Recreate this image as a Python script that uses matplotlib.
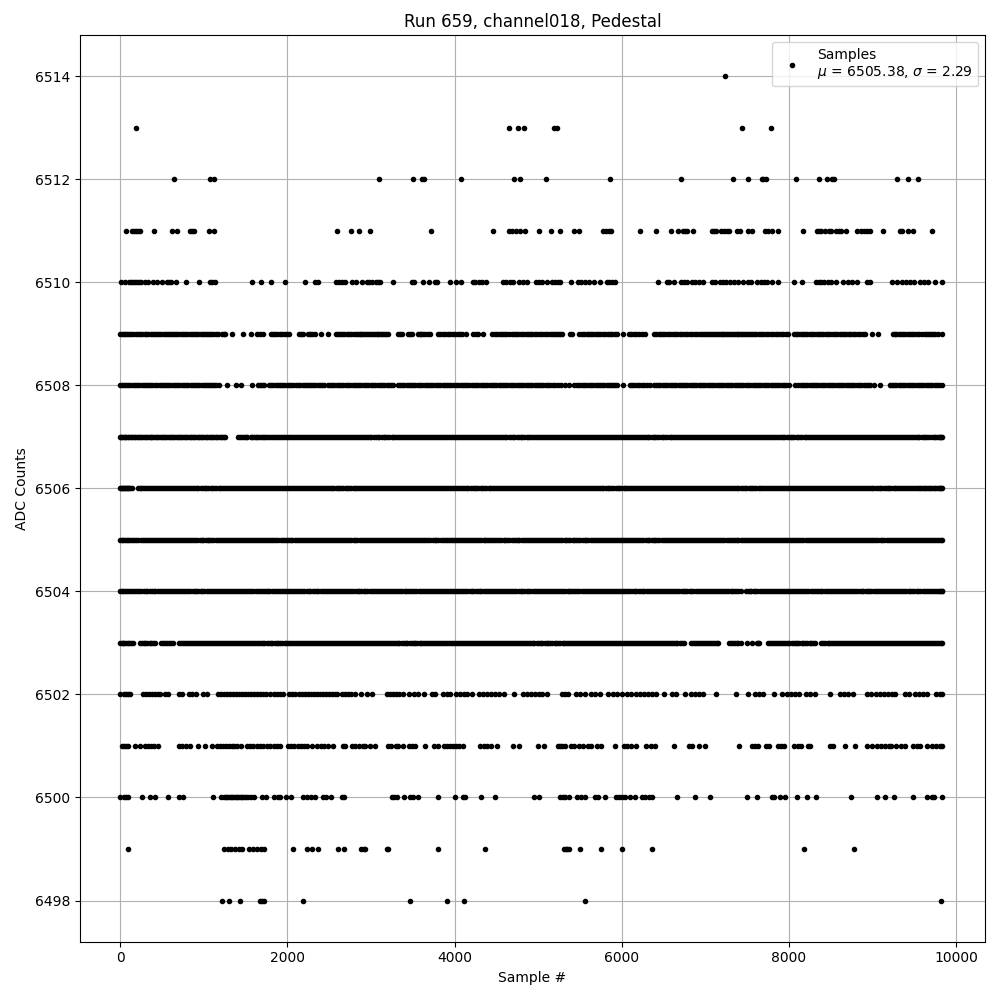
import matplotlib
matplotlib.use("Agg")
import matplotlib.pyplot as plt

# sample numbers, one list per ADC level
adc_6514 = [7236]
adc_6513 = [188, 4652, 4760, 4832, 5192, 5224, 7440, 7788]
adc_6512 = [644, 1076, 1124, 3092, 3500, 3612, 3636, 4076, 4712, 4784, 5088, 5856, 6708, 7332, 7512,
            7672, 7692, 7724, 8088, 8364, 8448, 8512, 8536, 9288, 9420, 9540]
adc_6511 = [68, 140, 164, 188, 212, 236, 404, 620, 680, 832, 856, 880, 1060, 1124, 2588, 2756, 2852, 2984,
            3716, 4460, 4652, 4688, 4736, 4784, 4844, 5012, 5148, 5256, 5424, 5484, 5780, 5812, 5844, 5868,
            6216, 6408, 6588, 6672, 6732, 6756, 6780, 6852, 7076, 7104, 7128, 7188, 7224, 7260, 7284, 7380,
            7416, 7512, 7552, 7712, 7752, 7800, 7872, 8172, 8340, 8364, 8388, 8436, 8472, 8496, 8556, 8592,
            8616, 8676, 8808, 8856, 8892, 8928, 8964, 9120, 9324, 9348, 9420, 9480, 9708]
adc_6510 = [12, 52, 108, 132, 156, 180, 204, 228, 244, 300, 332, 392, 444, 500, 556, 580, 612, 672, 788, 944,
            1076, 1100, 1132, 1580, 1688, 1808, 1976, 2204, 2324, 2364, 2580, 2612, 2652, 2692, 2768, 2820,
            2888, 2948, 2980, 3012, 3060, 3084, 3108, 3260, 3484, 3508, 3620, 3688, 3760, 3784, 3944, 4012,
            4076, 4220, 4244, 4292, 4332, 4380, 4580, 4620, 4660, 4700, 4772, 4812, 4860, 4968, 5004, 5040,
            5100, 5160, 5196, 5232, 5256, 5388, 5472, 5508, 5556, 5604, 5664, 5736, 5820, 5844, 5880, 5920,
            6432, 6540, 6564, 6624, 6708, 6744, 6780, 6840, 6876, 6924, 6972, 7080, 7116, 7176, 7212, 7248,
            7296, 7344, 7392, 7452, 7512, 7548, 7620, 7668, 7704, 7740, 7800, 7872, 8064, 8160, 8328, 8364,
            8388, 8424, 8460, 8496, 8556, 8640, 8700, 8748, 8808, 8928, 8964, 9228, 9288, 9348, 9396, 9444,
            9492, 9564, 9612, 9660, 9744, 9835]
adc_6509 = [0, 20, 40, 62, 85, 108, 130, 158, 185, 208, 230, 260, 290, 312, 335, 362, 390, 418, 445, 468, 490,
            520, 550, 575, 600, 620, 640, 668, 695, 722, 750, 775, 800, 830, 860, 882, 905, 932, 960, 985,
            1010, 1035, 1060, 1088, 1115, 1142, 1170, 1212, 1235, 1255, 1340, 1472, 1568, 1640, 1675, 1712,
            1808, 1830, 1850, 1880, 1910, 1938, 1965, 1995, 2024, 2140, 2165, 2190, 2240, 2265, 2290, 2332,
            2400, 2480, 2580, 2605, 2630, 2655, 2680, 2708, 2735, 2762, 2790, 2815, 2840, 2862, 2885, 2908,
            2930, 2952, 2975, 2998, 3020, 3042, 3065, 3088, 3110, 3132, 3155, 3178, 3200, 3320, 3345, 3370,
            3440, 3465, 3492, 3560, 3580, 3600, 3625, 3650, 3680, 3708, 3800, 3828, 3855, 3885, 3915, 3945,
            3975, 4008, 4040, 4065, 4090, 4140, 4220, 4250, 4280, 4340, 4452, 4480, 4510, 4538, 4565, 4592,
            4620, 4650, 4680, 4708, 4735, 4762, 4790, 4820, 4850, 4875, 4900, 4930, 4960, 4990, 5020, 5050,
            5080, 5108, 5135, 5162, 5190, 5215, 5240, 5262, 5284, 5375, 5400, 5492, 5520, 5550, 5578, 5605,
            5632, 5660, 5688, 5715, 5742, 5770, 5800, 5830, 5858, 5885, 5912, 5940, 6012, 6084, 6112, 6140,
            6172, 6205, 6238, 6272, 6384, 6412, 6440, 6468, 6495, 6522, 6550, 6580, 6610, 6638, 6665, 6692,
            6720, 6750, 6780, 6810, 6840, 6870, 6900, 6930, 6960, 6985, 7012, 7032, 7056, 7080, 7102, 7125,
            7148, 7170, 7192, 7215, 7238, 7260, 7282, 7305, 7328, 7350, 7372, 7395, 7418, 7440, 7462, 7485,
            7508, 7530, 7555, 7580, 7608, 7635, 7662, 7690, 7720, 7750, 7780, 7810, 7840, 7870, 7900, 7930,
            7960, 7992, 8060, 8085, 8110, 8138, 8165, 8192, 8220, 8248, 8275, 8302, 8330, 8358, 8385, 8412,
            8440, 8468, 8495, 8522, 8550, 8578, 8605, 8632, 8660, 8685, 8712, 8732, 8760, 8790, 8820, 8850,
            8880, 8912, 8988, 9060, 9240, 9262, 9285, 9310, 9335, 9362, 9390, 9418, 9445, 9472, 9500, 9530,
            9560, 9595, 9632, 9652, 9675, 9700, 9725, 9750, 9780, 9828]
adc_6508 = [0, 22, 45, 70, 95, 122, 150, 175, 200, 228, 255, 280, 305, 332, 360, 385, 410, 440, 470, 495, 520,
            548, 575, 600, 625, 652, 680, 708, 735, 760, 785, 812, 840, 865, 890, 918, 945, 972, 1000, 1025,
            1050, 1075, 1100, 1125, 1150, 1180, 1280, 1388, 1448, 1580, 1648, 1670, 1690, 1720, 1780, 1805,
            1830, 1858, 1885, 1910, 1935, 1962, 1990, 2018, 2045, 2072, 2100, 2128, 2155, 2182, 2210, 2235,
            2260, 2280, 2305, 2330, 2360, 2390, 2415, 2440, 2480, 2508, 2535, 2560, 2588, 2615, 2642, 2670,
            2698, 2725, 2752, 2780, 2805, 2830, 2858, 2885, 2912, 2940, 2968, 2995, 3022, 3050, 3078, 3105,
            3132, 3160, 3188, 3215, 3242, 3268, 3320, 3345, 3370, 3398, 3425, 3452, 3480, 3505, 3530, 3558,
            3585, 3612, 3640, 3668, 3695, 3720, 3745, 3772, 3800, 3828, 3855, 3882, 3910, 3935, 3960, 3988,
            4015, 4042, 4070, 4098, 4125, 4150, 4175, 4202, 4230, 4258, 4285, 4312, 4340, 4365, 4390, 4418,
            4445, 4472, 4500, 4528, 4555, 4580, 4605, 4632, 4660, 4688, 4715, 4742, 4770, 4795, 4820, 4848,
            4875, 4902, 4930, 4958, 4985, 5010, 5035, 5062, 5090, 5118, 5145, 5172, 5200, 5235, 5272, 5324,
            5372, 5432, 5458, 5484, 5524, 5550, 5575, 5602, 5630, 5658, 5685, 5712, 5740, 5765, 5790, 5818,
            5845, 5872, 5900, 5920, 5940, 6012, 6092, 6120, 6150, 6180, 6210, 6240, 6270, 6300, 6332, 6380,
            6408, 6435, 6462, 6490, 6518, 6545, 6570, 6595, 6622, 6650, 6678, 6705, 6732, 6760, 6785, 6810,
            6838, 6865, 6892, 6920, 6948, 6975, 7000, 7025, 7052, 7080, 7108, 7135, 7162, 7190, 7215, 7240,
            7268, 7295, 7322, 7350, 7378, 7405, 7430, 7455, 7482, 7510, 7538, 7565, 7592, 7620, 7645, 7670,
            7698, 7725, 7752, 7780, 7808, 7835, 7860, 7885, 7912, 7940, 7968, 7995, 8072, 8112, 8138, 8165,
            8192, 8220, 8248, 8275, 8300, 8325, 8352, 8380, 8408, 8435, 8462, 8490, 8515, 8540, 8568, 8595,
            8622, 8650, 8678, 8705, 8730, 8755, 8782, 8810, 8838, 8865, 8892, 8920, 8945, 8970, 9012, 9084,
            9204, 9230, 9255, 9282, 9310, 9338, 9365, 9392, 9420, 9445, 9470, 9498, 9525, 9552, 9580, 9608,
            9635, 9660, 9685, 9712, 9740, 9768, 9795, 9835]
adc_6507 = [0, 12, 25, 40, 55, 72, 90, 108, 125, 142, 160, 178, 195, 215, 235, 252, 270, 290, 310, 330, 350,
            368, 385, 405, 425, 445, 465, 482, 500, 520, 540, 560, 580, 598, 615, 635, 655, 675, 695, 712,
            730, 750, 770, 790, 810, 830, 850, 868, 885, 905, 925, 945, 965, 982, 1000, 1020, 1040, 1060,
            1080, 1100, 1120, 1140, 1160, 1180, 1200, 1220, 1240, 1256, 1404, 1430, 1452, 1475,
            1498, 1520, 1560, 1580, 1600, 1620, 1640, 1660, 1680, 1702, 1725, 1748, 1770, 1795, 1820, 1842,
            1865, 1890, 1915, 1938, 1960, 1985, 2010, 2032, 2055, 2080, 2105, 2128, 2150, 2175, 2200, 2222,
            2245, 2270, 2295, 2318, 2340, 2365, 2390, 2412, 2435, 2460, 2485, 2508, 2530, 2555, 2580, 2602,
            2625, 2650, 2675, 2698, 2720, 2745, 2770, 2792, 2815, 2840, 2865, 2888, 2910, 2935, 2960, 2982,
            3005, 3030, 3055, 3078, 3100, 3125, 3150, 3172, 3195, 3220, 3245, 3268, 3290, 3315, 3340, 3362,
            3385, 3410, 3435, 3458, 3480, 3505, 3530, 3552, 3575, 3600, 3625, 3648, 3670, 3695, 3720, 3742,
            3765, 3790, 3815, 3838, 3860, 3885, 3910, 3932, 3955, 3980, 4005, 4028, 4050, 4075, 4100, 4122,
            4145, 4170, 4195, 4218, 4240, 4265, 4290, 4312, 4335, 4360, 4385, 4408, 4430, 4455, 4480, 4502,
            4525, 4550, 4575, 4598, 4620, 4645, 4670, 4692, 4715, 4740, 4765, 4788, 4810, 4835, 4860, 4882,
            4905, 4930, 4955, 4978, 5000, 5025, 5050, 5072, 5095, 5120, 5145, 5168, 5190, 5215, 5240, 5262,
            5285, 5310, 5335, 5358, 5380, 5405, 5430, 5452, 5475, 5500, 5525, 5548, 5570, 5595, 5620, 5642,
            5665, 5690, 5715, 5738, 5760, 5785, 5810, 5832, 5855, 5880, 5905, 5928, 5950, 5975, 6000, 6022,
            6045, 6070, 6095, 6118, 6140, 6165, 6190, 6212, 6235, 6260, 6285, 6308, 6330, 6355, 6380, 6402,
            6425, 6450, 6475, 6498, 6520, 6545, 6570, 6592, 6615, 6640, 6665, 6688, 6710, 6735, 6760, 6782,
            6805, 6830, 6855, 6878, 6900, 6925, 6950, 6972, 6995, 7020, 7045, 7068, 7090, 7115, 7140, 7162,
            7185, 7210, 7235, 7258, 7280, 7305, 7330, 7352, 7375, 7400, 7425, 7448, 7470, 7495, 7520, 7542,
            7565, 7590, 7615, 7638, 7660, 7685, 7710, 7732, 7755, 7780, 7805, 7828, 7850, 7875, 7900, 7922,
            7945, 7970, 7995, 8018, 8040, 8065, 8090, 8112, 8135, 8160, 8185, 8208, 8230, 8255, 8280, 8302,
            8325, 8350, 8375, 8398, 8420, 8445, 8470, 8492, 8515, 8540, 8565, 8588, 8610, 8635, 8660, 8682,
            8705, 8730, 8755, 8778, 8800, 8825, 8850, 8872, 8895, 8920, 8945, 8968, 8990, 9015, 9040, 9062,
            9085, 9110, 9135, 9158, 9180, 9205, 9230, 9252, 9275, 9300, 9325, 9348, 9370, 9395, 9420, 9442,
            9465, 9490, 9515, 9538, 9560, 9585, 9610, 9632, 9655, 9680, 9705, 9728, 9750, 9770, 9790, 9805,
            9820, 9835]
adc_6506 = [0, 10, 20, 32, 45, 58, 70, 82, 95, 108, 120, 136, 212, 230, 252, 275, 298, 320, 345,
            370, 392, 415, 438, 460, 485, 510, 532, 555, 580, 605, 628, 650, 675, 700, 722, 745, 770, 795,
            818, 840, 865, 890, 912, 935, 960, 985, 1008, 1030, 1055, 1080, 1102, 1125, 1150, 1175, 1198,
            1220, 1245, 1270, 1292, 1315, 1340, 1365, 1388, 1410, 1435, 1460, 1482, 1505, 1530, 1555, 1578,
            1600, 1625, 1650, 1672, 1695, 1720, 1745, 1768, 1790, 1815, 1840, 1862, 1885, 1910, 1935, 1958,
            1980, 2005, 2030, 2052, 2075, 2100, 2125, 2148, 2170, 2195, 2220, 2242, 2265, 2290, 2315, 2338,
            2360, 2385, 2410, 2432, 2455, 2480, 2505, 2528, 2550, 2575, 2600, 2622, 2645, 2670, 2695, 2718,
            2740, 2765, 2790, 2812, 2835, 2860, 2885, 2908, 2930, 2955, 2980, 3002, 3025, 3050, 3075, 3098,
            3120, 3145, 3170, 3192, 3215, 3240, 3265, 3288, 3310, 3335, 3360, 3382, 3405, 3430, 3455, 3478,
            3500, 3525, 3550, 3572, 3595, 3620, 3645, 3668, 3690, 3715, 3740, 3762, 3785, 3810, 3835, 3858,
            3880, 3905, 3930, 3952, 3975, 4000, 4025, 4048, 4070, 4095, 4120, 4142, 4165, 4190, 4215, 4238,
            4260, 4285, 4310, 4332, 4355, 4380, 4405, 4428, 4450, 4475, 4500, 4522, 4545, 4570, 4595, 4618,
            4640, 4665, 4690, 4712, 4735, 4760, 4785, 4808, 4830, 4855, 4880, 4902, 4925, 4950, 4975, 4998,
            5020, 5045, 5070, 5092, 5115, 5140, 5165, 5188, 5210, 5235, 5260, 5282, 5305, 5330, 5355, 5378,
            5400, 5425, 5450, 5472, 5495, 5520, 5545, 5568, 5590, 5615, 5640, 5662, 5685, 5710, 5735, 5758,
            5780, 5805, 5830, 5852, 5875, 5900, 5925, 5948, 5970, 5995, 6020, 6042, 6065, 6090, 6115, 6138,
            6160, 6185, 6210, 6232, 6255, 6280, 6305, 6328, 6350, 6375, 6400, 6422, 6445, 6470, 6495, 6518,
            6540, 6565, 6590, 6612, 6635, 6660, 6685, 6708, 6730, 6755, 6780, 6802, 6825, 6850, 6875, 6898,
            6920, 6945, 6970, 6992, 7015, 7040, 7065, 7088, 7110, 7135, 7160, 7182, 7205, 7230, 7255, 7278,
            7300, 7325, 7350, 7372, 7395, 7420, 7445, 7468, 7490, 7515, 7540, 7562, 7585, 7610, 7635, 7658,
            7680, 7705, 7730, 7752, 7775, 7800, 7825, 7848, 7870, 7895, 7920, 7942, 7965, 7990, 8015, 8038,
            8060, 8085, 8110, 8132, 8155, 8180, 8205, 8228, 8250, 8275, 8300, 8322, 8345, 8370, 8395, 8418,
            8440, 8465, 8490, 8512, 8535, 8560, 8585, 8608, 8630, 8655, 8680, 8702, 8725, 8750, 8775, 8798,
            8820, 8845, 8870, 8892, 8915, 8940, 8965, 8988, 9010, 9035, 9060, 9082, 9105, 9130, 9155, 9178,
            9200, 9225, 9250, 9272, 9295, 9320, 9345, 9368, 9390, 9415, 9440, 9462, 9485, 9508, 9530, 9550,
            9570, 9590, 9610, 9630, 9650, 9670, 9690, 9710, 9730, 9750, 9770, 9790, 9810, 9822, 9835]
adc_6505 = [0, 15, 30, 52, 75, 97, 120, 145, 170, 192, 215, 242, 270, 292, 315, 340, 365, 388, 410, 437, 465,
            487, 510, 535, 560, 582, 605, 630, 655, 680, 705, 727, 750, 775, 800, 825, 850, 872, 895, 922,
            950, 972, 995, 1020, 1045, 1067, 1090, 1115, 1140, 1165, 1190, 1212, 1235, 1260, 1285, 1310,
            1335, 1357, 1380, 1407, 1435, 1457, 1480, 1505, 1530, 1552, 1575, 1600, 1625, 1650, 1675, 1697,
            1720, 1745, 1770, 1795, 1820, 1842, 1865, 1892, 1920, 1942, 1965, 1990, 2015, 2037, 2060, 2085,
            2110, 2135, 2160, 2182, 2205, 2230, 2255, 2280, 2305, 2327, 2350, 2377, 2405, 2427, 2450, 2475,
            2500, 2522, 2545, 2570, 2595, 2620, 2645, 2667, 2690, 2715, 2740, 2765, 2790, 2812, 2835, 2862,
            2890, 2912, 2935, 2960, 2985, 3007, 3030, 3055, 3080, 3105, 3130, 3152, 3175, 3200, 3225, 3250,
            3275, 3297, 3320, 3347, 3375, 3397, 3420, 3445, 3470, 3492, 3515, 3540, 3565, 3590, 3615, 3637,
            3660, 3685, 3710, 3735, 3760, 3782, 3805, 3832, 3860, 3882, 3905, 3930, 3955, 3977, 4000, 4025,
            4050, 4075, 4100, 4122, 4145, 4170, 4195, 4220, 4245, 4267, 4290, 4317, 4345, 4367, 4390, 4415,
            4440, 4462, 4485, 4510, 4535, 4560, 4585, 4607, 4630, 4655, 4680, 4705, 4730, 4752, 4775, 4802,
            4830, 4852, 4875, 4900, 4925, 4947, 4970, 4995, 5020, 5045, 5070, 5092, 5115, 5140, 5165, 5190,
            5215, 5237, 5260, 5287, 5315, 5337, 5360, 5385, 5410, 5432, 5455, 5480, 5505, 5530, 5555, 5577,
            5600, 5625, 5650, 5675, 5700, 5722, 5745, 5772, 5800, 5822, 5845, 5870, 5895, 5917, 5940, 5965,
            5990, 6015, 6040, 6062, 6085, 6110, 6135, 6160, 6185, 6207, 6230, 6257, 6285, 6307, 6330, 6355,
            6380, 6402, 6425, 6450, 6475, 6500, 6525, 6547, 6570, 6595, 6620, 6645, 6670, 6692, 6715, 6742,
            6770, 6792, 6815, 6840, 6865, 6887, 6910, 6935, 6960, 6985, 7010, 7032, 7055, 7080, 7105, 7130,
            7155, 7177, 7200, 7227, 7255, 7277, 7300, 7325, 7350, 7372, 7395, 7420, 7445, 7470, 7495, 7517,
            7540, 7565, 7590, 7615, 7640, 7662, 7685, 7712, 7740, 7762, 7785, 7810, 7835, 7857, 7880, 7905,
            7930, 7955, 7980, 8002, 8025, 8050, 8075, 8100, 8125, 8147, 8170, 8197, 8225, 8247, 8270, 8295,
            8320, 8342, 8365, 8390, 8415, 8440, 8465, 8487, 8510, 8535, 8560, 8585, 8610, 8632, 8655, 8682,
            8710, 8732, 8755, 8780, 8805, 8827, 8850, 8875, 8900, 8925, 8950, 8972, 8995, 9020, 9045, 9070,
            9095, 9117, 9140, 9167, 9195, 9217, 9240, 9265, 9290, 9312, 9335, 9360, 9385, 9410, 9435, 9457,
            9480, 9505, 9530, 9555, 9580, 9602, 9625, 9652, 9680, 9702, 9725, 9750, 9775, 9795, 9815, 9835]
adc_6504 = [0, 18, 35, 58, 80, 105, 130, 152, 175, 200, 225, 252, 280, 302, 325, 350, 375, 398, 420, 448, 475,
            498, 520, 545, 570, 592, 615, 642, 670, 692, 715, 740, 765, 788, 810, 838, 865, 888, 910, 935,
            960, 982, 1005, 1032, 1060, 1082, 1105, 1130, 1155, 1178, 1200, 1228, 1255, 1278, 1300, 1325,
            1350, 1372, 1395, 1422, 1450, 1472, 1495, 1520, 1545, 1568, 1590, 1618, 1645, 1668, 1690, 1715,
            1740, 1762, 1785, 1812, 1840, 1862, 1885, 1910, 1935, 1958, 1980, 2008, 2035, 2058, 2080, 2105,
            2130, 2152, 2175, 2202, 2230, 2252, 2275, 2300, 2325, 2348, 2370, 2398, 2425, 2448, 2470, 2495,
            2520, 2542, 2565, 2592, 2620, 2642, 2665, 2690, 2715, 2738, 2760, 2788, 2815, 2838, 2860, 2885,
            2910, 2932, 2955, 2982, 3010, 3032, 3055, 3080, 3105, 3128, 3150, 3178, 3205, 3228, 3250, 3275,
            3300, 3322, 3345, 3372, 3400, 3422, 3445, 3470, 3495, 3518, 3540, 3568, 3595, 3618, 3640, 3665,
            3690, 3712, 3735, 3762, 3790, 3812, 3835, 3860, 3885, 3908, 3930, 3958, 3985, 4008, 4030, 4055,
            4080, 4102, 4125, 4152, 4180, 4202, 4225, 4250, 4275, 4298, 4320, 4348, 4375, 4398, 4420, 4445,
            4470, 4492, 4515, 4542, 4570, 4592, 4615, 4640, 4665, 4688, 4710, 4738, 4765, 4788, 4810, 4835,
            4860, 4882, 4905, 4932, 4960, 4982, 5005, 5030, 5055, 5078, 5100, 5128, 5155, 5178, 5200, 5225,
            5250, 5272, 5295, 5322, 5350, 5372, 5395, 5420, 5445, 5468, 5490, 5518, 5545, 5568, 5590, 5615,
            5640, 5662, 5685, 5712, 5740, 5762, 5785, 5810, 5835, 5858, 5880, 5908, 5935, 5958, 5980, 6005,
            6030, 6052, 6075, 6102, 6130, 6152, 6175, 6200, 6225, 6248, 6270, 6298, 6325, 6348, 6370, 6395,
            6420, 6442, 6465, 6492, 6520, 6542, 6565, 6590, 6615, 6638, 6660, 6688, 6715, 6738, 6760, 6785,
            6810, 6832, 6855, 6882, 6910, 6932, 6955, 6980, 7005, 7028, 7050, 7078, 7105, 7128, 7150, 7175,
            7200, 7222, 7245, 7272, 7300, 7322, 7345, 7370, 7395, 7420, 7490, 7510, 7530, 7550, 7575,
            7598, 7620, 7648, 7675, 7698, 7720, 7745, 7770, 7792, 7815, 7842, 7870, 7892, 7915, 7940, 7965,
            7988, 8010, 8038, 8065, 8088, 8110, 8135, 8160, 8182, 8205, 8232, 8260, 8282, 8305, 8330, 8355,
            8378, 8400, 8428, 8455, 8478, 8500, 8525, 8550, 8572, 8595, 8622, 8650, 8672, 8695, 8720, 8745,
            8768, 8790, 8818, 8845, 8868, 8890, 8915, 8940, 8962, 8985, 9012, 9040, 9062, 9085, 9110, 9135,
            9158, 9180, 9208, 9235, 9258, 9280, 9305, 9330, 9352, 9375, 9402, 9430, 9452, 9475, 9500, 9525,
            9548, 9570, 9598, 9625, 9648, 9670, 9695, 9720, 9742, 9765, 9788, 9810, 9825, 9835]
adc_6503 = [0, 15, 30, 48, 65, 88, 110, 130, 150, 236, 255, 278, 300, 325, 350, 372, 395, 416,
            492, 515, 538, 560, 585, 610, 628, 704, 730, 752, 775, 800, 825, 848, 870, 895,
            920, 942, 965, 990, 1015, 1038, 1060, 1085, 1110, 1132, 1155, 1180, 1205, 1228, 1250, 1275, 1300,
            1322, 1345, 1370, 1395, 1418, 1440, 1465, 1490, 1512, 1535, 1560, 1585, 1608, 1630, 1655, 1680,
            1702, 1725, 1750, 1775, 1798, 1820, 1845, 1870, 1892, 1915, 1940, 1965, 1988, 2010, 2035, 2060,
            2082, 2105, 2130, 2155, 2178, 2200, 2225, 2250, 2272, 2295, 2320, 2345, 2368, 2390, 2415, 2440,
            2462, 2485, 2510, 2535, 2558, 2580, 2605, 2630, 2652, 2675, 2700, 2725, 2748, 2770, 2795, 2820,
            2842, 2865, 2890, 2915, 2938, 2960, 2985, 3010, 3032, 3055, 3080, 3105, 3128, 3150, 3175, 3200,
            3222, 3245, 3270, 3295, 3318, 3340, 3365, 3390, 3412, 3435, 3460, 3485, 3508, 3530, 3555, 3580,
            3602, 3625, 3650, 3675, 3698, 3720, 3745, 3770, 3792, 3815, 3840, 3865, 3888, 3910, 3935, 3960,
            3982, 4005, 4030, 4055, 4078, 4100, 4125, 4150, 4172, 4195, 4220, 4245, 4268, 4290, 4315, 4340,
            4362, 4385, 4410, 4435, 4458, 4480, 4505, 4530, 4552, 4575, 4600, 4625, 4648, 4670, 4695, 4720,
            4742, 4765, 4790, 4815, 4838, 4860, 4885, 4910, 4932, 4955, 4980, 5005, 5028, 5050, 5075, 5100,
            5122, 5145, 5170, 5195, 5218, 5240, 5265, 5290, 5312, 5335, 5360, 5385, 5408, 5430, 5455, 5480,
            5502, 5525, 5550, 5575, 5598, 5620, 5645, 5670, 5692, 5715, 5740, 5765, 5788, 5810, 5835, 5860,
            5882, 5905, 5930, 5955, 5978, 6000, 6025, 6050, 6072, 6095, 6120, 6145, 6168, 6190, 6215, 6240,
            6262, 6285, 6310, 6335, 6358, 6380, 6405, 6430, 6452, 6475, 6500, 6525, 6548, 6570, 6595, 6620,
            6642, 6665, 6690, 6715, 6745, 6828, 6850, 6875, 6900, 6922, 6945, 6970, 6995, 7018,
            7040, 7065, 7090, 7112, 7135, 7156, 7276, 7300, 7325, 7350, 7372, 7395, 7420,
            7500, 7556, 7615, 7628, 7640, 7744, 7770, 7792, 7815, 7840, 7865, 7888, 7910, 7935, 7960,
            7982, 8005, 8030, 8055, 8078, 8100, 8125, 8150, 8172, 8195, 8220, 8245, 8268, 8290, 8308,
            8388, 8410, 8435, 8460, 8482, 8505, 8530, 8555, 8578, 8600, 8625, 8650, 8672, 8695, 8720,
            8745, 8768, 8790, 8815, 8840, 8862, 8885, 8910, 8935, 8958, 8980, 9005, 9030, 9052, 9075, 9100,
            9125, 9148, 9170, 9195, 9220, 9242, 9265, 9290, 9315, 9338, 9360, 9385, 9410, 9432, 9455, 9480,
            9505, 9528, 9550, 9575, 9600, 9622, 9645, 9670, 9695, 9718, 9740, 9765, 9790, 9812, 9835]
adc_6502 = [0, 44, 68, 92, 116, 272, 308, 344, 380, 416, 452, 476, 536, 572, 704, 740, 824, 860, 908, 992, 1040,
            1172, 1208, 1244, 1280, 1316, 1352, 1388, 1424, 1460, 1496, 1532, 1568, 1604, 1640, 1676, 1712, 1748,
            1796, 1844, 1880, 1916, 1952, 2024, 2060, 2096, 2132, 2168, 2204, 2240, 2276, 2312, 2348, 2384, 2420,
            2456, 2492, 2528, 2564, 2588, 2648, 2684, 2720, 2756, 2804, 2876, 2948, 3008, 3188, 3224, 3260, 3296,
            3332, 3380, 3452, 3512, 3560, 3632, 3728, 3764, 3860, 3908, 3944, 4016, 4064, 4112, 4148, 4208, 4292,
            4340, 4388, 4436, 4484, 4532, 4592, 4712, 4820, 4868, 4916, 4964, 5012, 5040, 5100, 5280, 5316, 5352,
            5448, 5496, 5556, 5628, 5676, 5736, 5832, 5892, 5940, 6000, 6060, 6108, 6168, 6216, 6264, 6312, 6360,
            6408, 6508, 6600, 6648, 6756, 6828, 6876, 6924, 6972, 7128, 7368, 7512, 7596, 7644, 7692, 7824, 7920,
            7980, 8028, 8076, 8124, 8208, 8256, 8316, 8484, 8604, 8652, 8700, 8770, 8928, 8976, 9036, 9084, 9132,
            9180, 9228, 9264, 9384, 9432, 9504, 9552, 9600, 9648, 9756, 9804, 9830]
adc_6501 = [20, 44, 68, 92, 176, 236, 296, 332, 368, 404, 452, 704, 740, 788, 836, 924, 1016, 1100, 1160, 1196,
            1232, 1268, 1304, 1340, 1364, 1400, 1448, 1520, 1556, 1592, 1640, 1676, 1712, 1760, 1796, 1844, 1880,
            1916, 2012, 2048, 2084, 2120, 2156, 2192, 2228, 2288, 2348, 2396, 2432, 2480, 2540, 2660, 2684, 2768,
            2804, 2852, 2900, 2924, 2984, 3044, 3200, 3236, 3296, 3320, 3380, 3452, 3488, 3524, 3644, 3752, 3800,
            3872, 3908, 3944, 3980, 4016, 4052, 4100, 4304, 4352, 4388, 4436, 4508, 4700, 4772, 5000, 5064, 5232,
            5256, 5280, 5316, 5388, 5424, 5484, 5532, 5592, 5628, 5700, 5748, 5916, 6024, 6060, 6108, 6168, 6288,
            6348, 6396, 6624, 6804, 6840, 6924, 6996, 7404, 7560, 7596, 7632, 7728, 7764, 7872, 7908, 7944, 8064,
            8112, 8148, 8232, 8256, 8484, 8520, 8664, 8784, 8928, 8988, 9048, 9096, 9144, 9192, 9216, 9276, 9336,
            9384, 9480, 9532, 9564, 9648, 9708, 9756, 9804, 9835]
adc_6500 = [0, 44, 68, 92, 260, 356, 416, 572, 704, 752, 1112, 1208, 1240, 1260, 1280, 1300, 1320, 1340, 1360,
            1380, 1400, 1420, 1440, 1460, 1480, 1500, 1530, 1560, 1600, 1700, 1740, 1844, 1892, 1916, 1988, 2044,
            2180, 2228, 2276, 2324, 2420, 2456, 2516, 2648, 2672, 3248, 3272, 3308, 3392, 3464, 3500, 3560, 3800,
            4004, 4100, 4124, 4316, 4484, 4944, 5004, 5256, 5292, 5316, 5364, 5460, 5508, 5556, 5676, 5712, 5796,
            5928, 5964, 6000, 6036, 6096, 6156, 6240, 6276, 6324, 6360, 6660, 6876, 7056, 7500, 7612, 7800, 7824,
            7896, 7956, 8100, 8220, 8328, 8736, 9048, 9144, 9252, 9480, 9648, 9708, 9732, 9830]
adc_6499 = [92, 1244, 1292, 1328, 1376, 1424, 1460, 1544, 1592, 1640, 1688, 1724, 2072, 2228, 2288, 2360, 2600,
            2672, 2876, 2912, 2924, 3188, 3204, 3800, 4364, 5304, 5328, 5340, 5364, 5496, 5748, 6000, 6360, 8184, 8772]
adc_6498 = [1220, 1304, 1436, 1676, 1700, 1724, 2180, 3464, 3908, 4112, 5556, 9816]

sample_lists = [adc_6498, adc_6499, adc_6500, adc_6501, adc_6502, adc_6503, adc_6504, adc_6505, adc_6506,
                adc_6507, adc_6508, adc_6509, adc_6510, adc_6511, adc_6512, adc_6513, adc_6514]
first_level = 6498

samples = []
counts = []
for i, xs in enumerate(sample_lists):
    samples.extend(xs)
    counts.extend([first_level + i] * len(xs))

plt.figure(figsize=(10, 10))
plt.plot(samples, counts, 'k.', label='Samples\n$\\mu$ = 6505.38, $\\sigma$ = 2.29')
plt.title("Run 659, channel018, Pedestal")
plt.xlabel("Sample #")
plt.ylabel("ADC Counts")
plt.xlim(-486, 10344)
plt.grid(True)
plt.legend(loc='upper right')
plt.tight_layout()
plt.subplots_adjust(top=0.965)
plt.savefig("out.png", dpi=100)
